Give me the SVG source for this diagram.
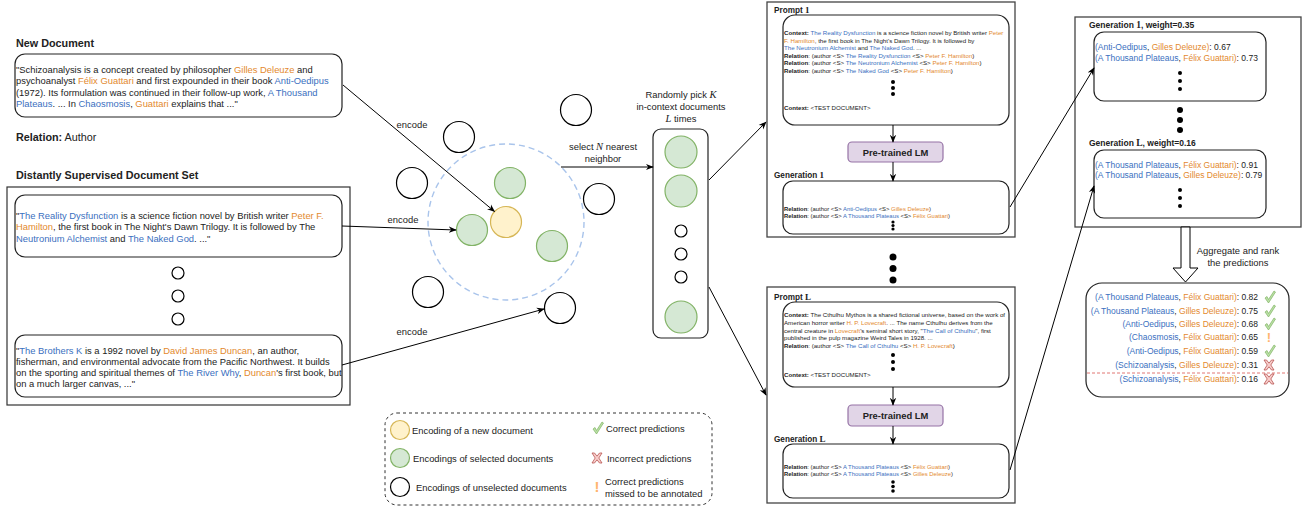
<svg xmlns="http://www.w3.org/2000/svg" width="1308" height="507" viewBox="0 0 1308 507">
<style>
.t{font-family:'Liberation Sans',Arial,Helvetica,sans-serif;fill:#222}
.b{font-weight:bold}
.bl{fill:#3a6fc0}
.or{fill:#e3892e}
.m{font-family:'Liberation Serif','Times New Roman',serif;font-style:italic}
.mb{font-family:'Liberation Serif','Times New Roman',serif;font-weight:bold}
.f94{font-size:9.4px}
.f108{font-size:10.8px}
.f82{font-size:8.2px}
.f85{font-size:8.5px}
.f6{font-size:6.15px}
.f58{font-size:5.9px}
.box{fill:#fff;stroke:#222;stroke-width:1.2}
.obox{fill:#fff;stroke:#444;stroke-width:1.3}
.c0{fill:#fff;stroke:#000;stroke-width:1.2}
.cg{fill:#d5e8d4;stroke:#82b366;stroke-width:1.2}
.cy{fill:#fff2cc;stroke:#d6b656;stroke-width:1.2}
.ar{fill:none;stroke:#000;stroke-width:1;marker-end:url(#arr)}
.ln{fill:none;stroke:#000;stroke-width:1}
.dot{fill:#000}
.lm{fill:#e1d5e7;stroke:#9673a6;stroke-width:1.2}
.mid{text-anchor:middle}
.end{text-anchor:end}
</style>
<defs>
<marker id="arr" viewBox="0 0 10 10" refX="9" refY="5" markerWidth="8" markerHeight="8" orient="auto" markerUnits="userSpaceOnUse">
<path d="M0,1 L10,5 L0,9 L3,5 z" fill="#000"/>
</marker>
<g id="chk"><path d="M-5,1 L-3,-0.5 L-1.5,2.5 L4,-6 L5.5,-5 L-1.5,6 Z" fill="#b9e0a5" stroke="#82b366" stroke-width="0.7"/></g>
<g id="crs"><path d="M-5,-5 L-2.5,-5 L0,-1.8 L2.5,-5 L5,-5 L1.8,0 L5,5 L2.5,5 L0,1.8 L-2.5,5 L-5,5 L-1.8,0 Z" fill="#f8cecc" stroke="#b85450" stroke-width="0.8"/></g>
</defs>

<!-- Left side -->
<g id="new-doc">
<text class="t b f108" x="16" y="47">New Document</text>
<rect class="box" x="15" y="54" width="327" height="63" rx="10"/>
<text class="t f94" x="16" y="72.5">"Schizoanalysis is a concept created by philosopher <tspan class="or">Gilles Deleuze</tspan> and</text>
<text class="t f94" x="16" y="84">psychoanalyst <tspan class="or">Félix Guattari</tspan> and first expounded in their book <tspan class="bl">Anti-Oedipus</tspan></text>
<text class="t f94" x="16" y="95.5">(1972). Its formulation was continued in their follow-up work, <tspan class="bl">A Thousand</tspan></text>
<text class="t f94" x="16" y="107"><tspan class="bl">Plateaus</tspan>. ... In <tspan class="bl">Chaosmosis</tspan>, <tspan class="or">Guattari</tspan> explains that ..."</text>
<text class="t f108" x="16" y="141"><tspan class="b">Relation:</tspan> Author</text>
</g>

<g id="doc-set">
<text class="t b f108" x="16" y="179">Distantly Supervised Document Set</text>
<rect x="7" y="187" width="343" height="218" fill="#fff" stroke="#333" stroke-width="1.2"/>
<rect class="box" x="15" y="195" width="327" height="62" rx="10"/>
<text class="t f94" x="16" y="218.5">"<tspan class="bl">The Reality Dysfunction</tspan> is a science fiction novel by British writer <tspan class="or">Peter F.</tspan></text>
<text class="t f94" x="16" y="230"><tspan class="or">Hamilton</tspan>, the first book in The Night's Dawn Trilogy. It is followed by The</text>
<text class="t f94" x="16" y="241.5"><tspan class="bl">Neutronium Alchemist</tspan> and <tspan class="bl">The Naked God</tspan>. ..."</text>
<circle class="c0" cx="178" cy="273" r="6"/>
<circle class="c0" cx="178" cy="296" r="6"/>
<circle class="c0" cx="178" cy="319" r="6"/>
<rect class="box" x="15" y="335" width="327" height="62" rx="10"/>
<text class="t f94" x="16" y="353.5">"<tspan class="bl">The Brothers K</tspan> is a 1992 novel by <tspan class="or">David James Duncan</tspan>, an author,</text>
<text class="t f94" x="16" y="364.5">fisherman, and environmental advocate from the Pacific Northwest. It builds</text>
<text class="t f94" x="16" y="375.5">on the sporting and spiritual themes of <tspan class="bl">The River Why</tspan>, <tspan class="or">Duncan</tspan>'s first book, but</text>
<text class="t f94" x="16" y="386.5">on a much larger canvas, ..."</text>
</g>

<!-- Embedding space -->
<g id="embedding-space">
<circle cx="506" cy="222" r="78" fill="none" stroke="#a9c4eb" stroke-width="1.4" stroke-dasharray="6,4"/>
<circle class="cg" cx="510" cy="183" r="15.5"/>
<circle class="cg" cx="472" cy="230" r="15.5"/>
<circle class="cg" cx="552" cy="246" r="15.5"/>
<circle class="cy" cx="506" cy="222" r="15.5"/>
<circle class="c0" cx="459" cy="137" r="15.5"/>
<circle class="c0" cx="412" cy="183" r="15.5"/>
<circle class="c0" cx="576" cy="110" r="15.5"/>
<circle class="c0" cx="599" cy="199" r="15.5"/>
<circle class="c0" cx="428" cy="292" r="15.5"/>
<circle class="c0" cx="560" cy="308" r="15.5"/>
</g>

<g id="selected-column">
<text class="t f94 mid" x="681" y="98">Randomly pick <tspan class="m" font-size="10.5">K</tspan></text>
<text class="t f94 mid" x="681" y="109.5">in-context documents</text>
<text class="t f94 mid" x="681" y="121.5"><tspan class="m" font-size="10.5">L</tspan> times</text>
<rect class="box" x="653" y="129" width="55" height="209" rx="8"/>
<circle class="cg" cx="681" cy="152" r="16"/>
<circle class="cg" cx="681" cy="191" r="16"/>
<circle class="c0" cx="681" cy="231" r="6"/>
<circle class="c0" cx="681" cy="254" r="6"/>
<circle class="c0" cx="681" cy="277" r="6"/>
<circle class="cg" cx="681" cy="317" r="16"/>
</g>

<!-- Prompt 1 -->
<g id="prompt-1">
<rect class="obox" x="767" y="2" width="248" height="235"/>
<text class="t b f82" x="774" y="13">Prompt <tspan class="mb" font-size="9">1</tspan></text>
<rect class="box" x="783" y="15" width="226" height="110" rx="12"/>
<text class="t f6" x="784" y="35"><tspan class="b">Context:</tspan> <tspan class="bl">The Reality Dysfunction</tspan> is a science fiction novel by British writer <tspan class="or">Peter</tspan></text>
<text class="t f6" x="784" y="42.5"><tspan class="or">F. Hamilton</tspan>, the first book in The Night's Dawn Trilogy. It is followed by</text>
<text class="t f6" x="784" y="50"><tspan class="bl">The Neutronium Alchemist</tspan> and <tspan class="bl">The Naked God</tspan>. ...</text>
<text class="t f6" x="784" y="57.5"><tspan class="b">Relation</tspan>: (author &lt;S&gt; <tspan class="bl">The Reality Dysfunction</tspan> &lt;S&gt; <tspan class="or">Peter F. Hamilton</tspan>)</text>
<text class="t f6" x="784" y="65"><tspan class="b">Relation</tspan>: (author &lt;S&gt; <tspan class="bl">The Neutronium Alchemist</tspan> &lt;S&gt; <tspan class="or">Peter F. Hamilton</tspan>)</text>
<text class="t f6" x="784" y="72.5"><tspan class="b">Relation</tspan>: (author &lt;S&gt; <tspan class="bl">The Naked God</tspan> &lt;S&gt; <tspan class="or">Peter F. Hamilton</tspan>)</text>
<circle class="dot" cx="893" cy="82" r="2"/>
<circle class="dot" cx="893" cy="88" r="2"/>
<circle class="dot" cx="893" cy="94" r="2"/>
<text class="t f6" x="784" y="110"><tspan class="b">Context:</tspan> &lt;TEST DOCUMENT&gt;</text>
<rect class="lm" x="848" y="142" width="95" height="20" rx="4"/>
<text class="t b f94 mid" x="895.5" y="155.5">Pre-trained LM</text>
<text class="t b f82" x="774" y="178">Generation <tspan class="mb" font-size="9">1</tspan></text>
<rect class="box" x="783" y="181" width="226" height="53" rx="10"/>
<text class="t f58" x="784" y="211"><tspan class="b">Relation</tspan>: (author &lt;S&gt; <tspan class="bl">Anti-Oedipus</tspan> &lt;S&gt; <tspan class="or">Gilles Deleuze</tspan>)</text>
<text class="t f58" x="784" y="218"><tspan class="b">Relation</tspan>: (author &lt;S&gt; <tspan class="bl">A Thousand Plateaus</tspan> &lt;S&gt; <tspan class="or">Félix Guattari</tspan>)</text>
<circle class="dot" cx="893" cy="222" r="1.6"/>
<circle class="dot" cx="893" cy="225.5" r="1.6"/>
<circle class="dot" cx="893" cy="229" r="1.6"/>
</g>

<g id="between-dots">
<circle class="dot" cx="893" cy="257" r="3.5"/>
<circle class="dot" cx="893" cy="268.5" r="3.5"/>
<circle class="dot" cx="893" cy="280" r="3.5"/>
</g>

<!-- Prompt L -->
<g id="prompt-L">
<rect class="obox" x="767" y="287" width="248" height="216"/>
<text class="t b f82" x="774" y="300">Prompt <tspan class="mb" font-size="9">L</tspan></text>
<rect class="box" x="783" y="302" width="226" height="85" rx="12"/>
<text class="t f6" x="784" y="317"><tspan class="b">Context:</tspan> The Cthulhu Mythos is a shared fictional universe, based on the work of</text>
<text class="t f6" x="784" y="325">American horror writer <tspan class="or">H. P. Lovecraft</tspan>. ... The name Cthulhu derives from the</text>
<text class="t f6" x="784" y="333">central creature in <tspan class="or">Lovecraft</tspan>'s seminal short story, "<tspan class="bl">The Call of Cthulhu</tspan>", first</text>
<text class="t f6" x="784" y="340">published in the pulp magazine Weird Tales in 1928. ...</text>
<text class="t f6" x="784" y="347.5"><tspan class="b">Relation</tspan>: (author &lt;S&gt; <tspan class="bl">The Call of Cthulhu</tspan> &lt;S&gt; <tspan class="or">H. P. Lovecraft</tspan>)</text>
<circle class="dot" cx="893" cy="355" r="2"/>
<circle class="dot" cx="893" cy="362" r="2"/>
<circle class="dot" cx="893" cy="369" r="2"/>
<text class="t f6" x="784" y="376.5"><tspan class="b">Context:</tspan> &lt;TEST DOCUMENT&gt;</text>
<rect class="lm" x="848" y="405" width="95" height="21" rx="4"/>
<text class="t b f94 mid" x="895.5" y="418.5">Pre-trained LM</text>
<text class="t b f82" x="774" y="442">Generation <tspan class="mb" font-size="9">L</tspan></text>
<rect class="box" x="783" y="444" width="226" height="54" rx="10"/>
<text class="t f58" x="784" y="469"><tspan class="b">Relation</tspan>: (author &lt;S&gt; <tspan class="bl">A Thousand Plateaus</tspan> &lt;S&gt; <tspan class="or">Félix Guattari</tspan>)</text>
<text class="t f58" x="784" y="476"><tspan class="b">Relation</tspan>: (author &lt;S&gt; <tspan class="bl">A Thousand Plateaus</tspan> &lt;S&gt; <tspan class="or">Gilles Deleuze</tspan>)</text>
<circle class="dot" cx="893" cy="482" r="1.8"/>
<circle class="dot" cx="893" cy="486.5" r="1.8"/>
<circle class="dot" cx="893" cy="491" r="1.8"/>
</g>

<!-- Right side -->
<g id="weighted-generations">
<rect class="obox" x="1075" y="17" width="226" height="210"/>
<text class="t b f85" x="1089" y="28">Generation <tspan class="mb" font-size="9.5">1</tspan>, weight=0.35</text>
<rect class="box" x="1094" y="32" width="172" height="69" rx="10"/>
<text class="t f85" x="1095" y="50"><tspan class="bl">(Anti-Oedipus</tspan>, <tspan class="or">Gilles Deleuze)</tspan>: 0.67</text>
<text class="t f85" x="1095" y="61"><tspan class="bl">(A Thousand Plateaus</tspan>, <tspan class="or">Félix Guattari)</tspan>: 0.73</text>
<circle class="dot" cx="1180" cy="73" r="2"/>
<circle class="dot" cx="1180" cy="81" r="2"/>
<circle class="dot" cx="1180" cy="89" r="2"/>
<circle class="dot" cx="1180" cy="110" r="3"/>
<circle class="dot" cx="1180" cy="120" r="3"/>
<circle class="dot" cx="1180" cy="130" r="3"/>
<text class="t b f85" x="1089" y="146">Generation <tspan class="mb" font-size="9.5">L</tspan>, weight=0.16</text>
<rect class="box" x="1094" y="150" width="172" height="68" rx="10"/>
<text class="t f85" x="1095" y="168"><tspan class="bl">(A Thousand Plateaus</tspan>, <tspan class="or">Félix Guattari)</tspan>: 0.91</text>
<text class="t f85" x="1095" y="178"><tspan class="bl">(A Thousand Plateaus</tspan>, <tspan class="or">Gilles Deleuze)</tspan>: 0.79</text>
<circle class="dot" cx="1180" cy="190" r="2"/>
<circle class="dot" cx="1180" cy="198" r="2"/>
<circle class="dot" cx="1180" cy="206" r="2"/>
</g>

<g id="aggregate-arrow">
<path d="M1181,227 L1190,227 L1190,268 L1198,268 L1185.5,282 L1173,268 L1181,268 Z" fill="#fff" stroke="#000" stroke-width="1"/>
<text class="t f94 mid" x="1238" y="254">Aggregate and rank</text>
<text class="t f94 mid" x="1238" y="265.5">the predictions</text>
</g>

<g id="ranked-predictions">
<rect class="box" x="1086" y="283" width="203" height="114" rx="16"/>
<text class="t f85 end" x="1258" y="300"><tspan class="bl">(A Thousand Plateaus</tspan>, <tspan class="or">Félix Guattari)</tspan>: 0.82</text>
<text class="t f85 end" x="1258" y="314"><tspan class="bl">(A Thousand Plateaus</tspan>, <tspan class="or">Gilles Deleuze)</tspan>: 0.75</text>
<text class="t f85 end" x="1258" y="327"><tspan class="bl">(Anti-Oedipus</tspan>, <tspan class="or">Gilles Deleuze)</tspan>: 0.68</text>
<text class="t f85 end" x="1258" y="340"><tspan class="bl">(Chaosmosis</tspan>, <tspan class="or">Félix Guattari)</tspan>: 0.65</text>
<text class="t f85 end" x="1258" y="354"><tspan class="bl">(Anti-Oedipus</tspan>, <tspan class="or">Félix Guattari)</tspan>: 0.59</text>
<text class="t f85 end" x="1258" y="368"><tspan class="bl">(Schizoanalysis</tspan>, <tspan class="or">Gilles Deleuze)</tspan>: 0.31</text>
<line x1="1087" y1="373" x2="1288" y2="373" stroke="#d9534f" stroke-width="0.8" stroke-dasharray="3,2"/>
<text class="t f85 end" x="1258" y="382"><tspan class="bl">(Schizoanalysis</tspan>, <tspan class="or">Félix Guattari)</tspan>: 0.16</text>
<use href="#chk" x="1270" y="297"/>
<use href="#chk" x="1270" y="311"/>
<use href="#chk" x="1270" y="324"/>
<text class="t mid" x="1269" y="342" font-size="13" style="fill:#ffb570;font-weight:bold">!</text>
<use href="#chk" x="1270" y="351"/>
<use href="#crs" x="1269" y="365"/>
<use href="#crs" x="1269" y="379"/>
</g>

<!-- Legend -->
<g id="legend">
<rect x="385" y="413" width="327" height="92" rx="12" fill="#fff" stroke="#333" stroke-width="1" stroke-dasharray="3,3"/>
<circle class="cy" cx="400" cy="430" r="9.5"/>
<text class="t f94" x="412" y="433.5">Encoding of a new document</text>
<circle class="cg" cx="400" cy="458" r="9.5"/>
<text class="t f94" x="413" y="461.5">Encodings of selected documents</text>
<circle class="c0" cx="400" cy="487" r="9.5"/>
<text class="t f94" x="416" y="490.5">Encodings of unselected documents</text>
<use href="#chk" x="598" y="428"/>
<text class="t f94" x="606" y="431.5">Correct predictions</text>
<use href="#crs" x="597" y="458"/>
<text class="t f94" x="607" y="461.5">Incorrect predictions</text>
<text class="t mid" x="597" y="492" font-size="15" style="fill:#ffb570;font-weight:bold">!</text>
<text class="t f94" x="605" y="485">Correct predictions</text>
<text class="t f94" x="605" y="496.5">missed to be annotated</text>
</g>

<!-- Connectors -->
<g id="connectors">
<path class="ar" d="M343,85 L494.5,211.5"/>
<text class="t f94 mid" x="412" y="127.5">encode</text>
<path class="ar" d="M342,226 L456,230"/>
<text class="t f94 mid" x="403" y="222.5">encode</text>
<path class="ar" d="M342,365 L544,309"/>
<text class="t f94 mid" x="412" y="334.5">encode</text>
<path class="ar" d="M561,167 L653,167"/>
<text class="t f94 mid" x="603" y="150">select <tspan class="m" font-size="10.5">N</tspan> nearest</text>
<text class="t f94 mid" x="603" y="162">neighbor</text>
<path class="ar" d="M709,180 L766,122"/>
<path class="ar" d="M709,287 L766,395"/>
<path class="ar" d="M893,125 L893,142"/>
<path class="ar" d="M893,162 L893,181"/>
<path class="ar" d="M893,387 L893,405"/>
<path class="ar" d="M893,426 L893,444"/>
<path class="ar" d="M1010,207 L1094,68"/>
<path class="ar" d="M1010,470 L1094,186"/>
</g>
</svg>
